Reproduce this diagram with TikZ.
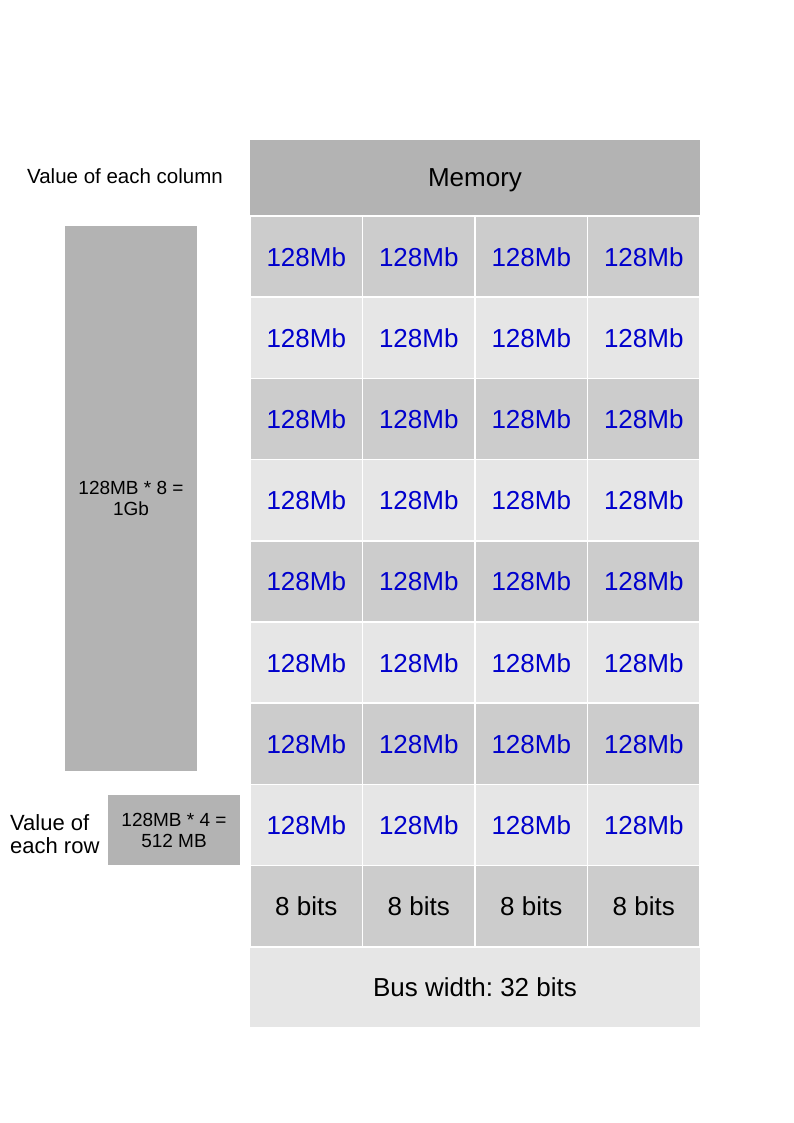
\documentclass[tikz,border=0pt]{standalone}
\usepackage{fontspec}
\setmainfont{Liberation Sans}
\definecolor{headgray}{HTML}{B3B3B3}
\definecolor{darkrow}{HTML}{CCCCCC}
\definecolor{lightrow}{HTML}{E6E6E6}
\definecolor{cellblue}{HTML}{0000CC}
\tikzset{
  cell/.style={rectangle, inner sep=0, text depth=0pt, minimum width=110.9pt, minimum height=79.6pt, font=\fontsize{26}{30}\selectfont},
  sidebox/.style={rectangle, fill=headgray, inner sep=0, minimum width=132pt, align=center, font=\fontsize{19}{21}\selectfont},
}
\begin{document}
\frenchspacing
\begin{tikzpicture}[x=1pt, y=-1pt]
    \useasboundingbox (0,0) rectangle (794,1123);
    % memory grid
    \node[cell, fill=headgray, minimum width=450pt, minimum height=75pt] (memory) at (475,177.5) {Memory};
    \foreach \r in {1,...,8} {
        \pgfmathsetmacro{\ry}{216+81.2*(\r-0.5)}
        \ifodd\r \def\rowfill{darkrow}\else \def\rowfill{lightrow}\fi
        \foreach \c in {1,...,4} {
            \node[cell, fill=\rowfill, text=cellblue] (m-\r-\c) at ({250+112.5*(\c-0.5)},\ry) {128Mb};
        }
    }
    \foreach \c in {1,...,4} {
        \node[cell, fill=darkrow] (bits-\c) at ({250+112.5*(\c-0.5)},906.2) {8 bits};
    }
    \node[cell, fill=lightrow, minimum width=450pt] (bus) at (475,987.4) {Bus width: 32 bits};
    % side labels
    \node[font=\fontsize{20.5}{24}\selectfont] (colvalue) at (125,176) {Value of each column};
    \node[sidebox, minimum height=545pt] (colsum) at (131,498.5) {128MB * 8 =\\1Gb};
    \node[sidebox, minimum height=70pt] (rowsum) at (174,830) {128MB * 4 =\\512 MB};
    \node[anchor=west, align=left, inner sep=0, font=\fontsize{22}{22.5}\selectfont] (rowvalue) at (10,834) {Value of\\each row};
\end{tikzpicture}
\end{document}
